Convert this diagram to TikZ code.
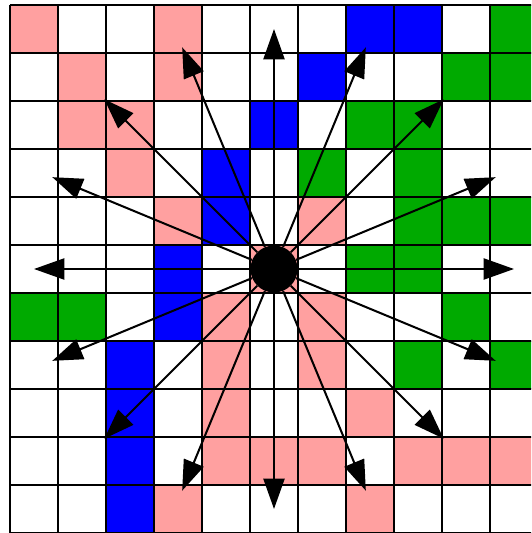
\documentclass[tikz,border=0pt]{standalone}
\usetikzlibrary{arrows.meta}
\definecolor{cpink}{RGB}{255,160,160}
\definecolor{cgreen}{RGB}{0,170,0}
\definecolor{cblue}{RGB}{0,0,255}
\begin{document}
\begin{tikzpicture}[x=1cm,y=-1cm,
  gridline/.style={line width=1.1pt, black},
  ray/.style={line width=1.2pt, -{Triangle[length=18pt,width=12.5pt]}},
  hub/.style={circle, fill=black, minimum size=0.98cm, inner sep=0pt},
  pinkcell/.style={fill=cpink},
  bluecell/.style={fill=cblue},
  greencell/.style={fill=cgreen}]
\clip (-0.2083,-0.1042) rectangle (10.854,11);
\fill[white] (-0.2083,-0.1042) rectangle (10.854,11);
\foreach \c/\r in {0/0,3/0,1/1,3/1,1/2,2/2,2/3,3/4,6/4,5/5,4/6,6/6,4/7,6/7,4/8,7/8,4/9,5/9,6/9,8/9,9/9,10/9,3/10,7/10}
  \path[pinkcell] (\c,\r) rectangle ++(1,1);
\foreach \c/\r in {7/0,8/0,6/1,5/2,4/3,4/4,3/5,3/6,2/7,2/8,2/9,2/10}
  \path[bluecell] (\c,\r) rectangle ++(1,1);
\foreach \c/\r in {10/0,9/1,10/1,7/2,8/2,6/3,8/3,8/4,9/4,10/4,7/5,8/5,0/6,1/6,9/6,8/7,10/7}
  \path[greencell] (\c,\r) rectangle ++(1,1);
\draw[gridline] (0,0) grid (11,11);
\node[hub] (c) at (5.5,5.5) {};
\foreach \i in {0,...,15} {
  \path (c.center) ++(\i*22.5:5) coordinate (t\i);
  \draw[ray] (c) -- (t\i);
}
\end{tikzpicture}
\end{document}
